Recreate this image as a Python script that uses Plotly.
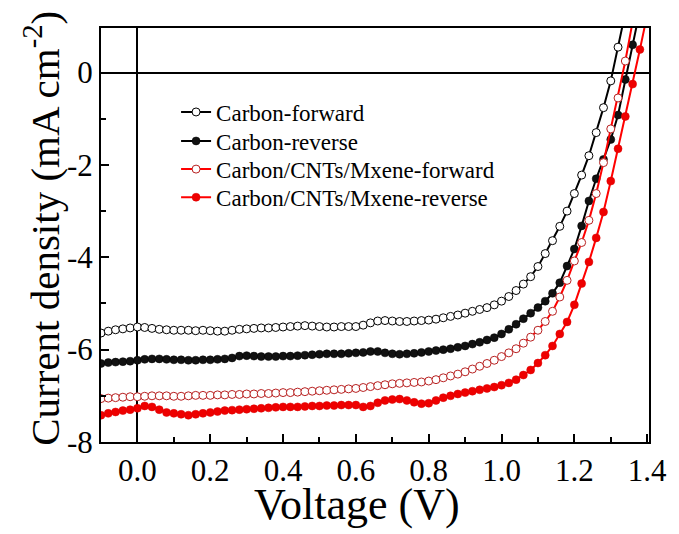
import plotly.graph_objects as go

voltage = [-0.10, -0.08, -0.06, -0.04, -0.02, 0.00, 0.02, 0.04, 0.06, 0.08,
           0.10, 0.12, 0.14, 0.16, 0.18, 0.20, 0.22, 0.24, 0.26, 0.28,
           0.30, 0.32, 0.34, 0.36, 0.38, 0.40, 0.42, 0.44, 0.46, 0.48,
           0.50, 0.52, 0.54, 0.56, 0.58, 0.60, 0.62, 0.64, 0.66, 0.68,
           0.70, 0.72, 0.74, 0.76, 0.78, 0.80, 0.82, 0.84, 0.86, 0.88,
           0.90, 0.92, 0.94, 0.96, 0.98, 1.00, 1.02, 1.04, 1.06, 1.08,
           1.10, 1.12, 1.14, 1.16, 1.18, 1.20, 1.22, 1.24, 1.26, 1.28,
           1.30, 1.32, 1.34, 1.36, 1.38, 1.40]

carbon_forward = [-5.64, -5.60, -5.57, -5.55, -5.53, -5.51, -5.52, -5.54, -5.56, -5.57,
                  -5.58, -5.58, -5.58, -5.59, -5.58, -5.59, -5.60, -5.60, -5.58, -5.56,
                  -5.55, -5.54, -5.53, -5.53, -5.52, -5.51, -5.50, -5.49, -5.48, -5.49,
                  -5.50, -5.51, -5.51, -5.50, -5.50, -5.50, -5.47, -5.42, -5.38, -5.37,
                  -5.38, -5.39, -5.39, -5.38, -5.37, -5.36, -5.34, -5.31, -5.28, -5.25,
                  -5.21, -5.17, -5.13, -5.09, -5.03, -4.95, -4.85, -4.72, -4.58, -4.42,
                  -4.20, -3.92, -3.64, -3.33, -3.00, -2.62, -2.22, -1.80, -1.30, -0.76,
                  -0.18, 0.55, 1.30, None, None, None]

carbon_reverse = [-6.30, -6.28, -6.27, -6.26, -6.25, -6.23, -6.21, -6.20, -6.20, -6.21,
                  -6.22, -6.22, -6.23, -6.23, -6.22, -6.22, -6.21, -6.20, -6.18, -6.14,
                  -6.13, -6.14, -6.15, -6.15, -6.15, -6.14, -6.14, -6.13, -6.12, -6.11,
                  -6.10, -6.09, -6.09, -6.09, -6.08, -6.07, -6.06, -6.04, -6.04, -6.07,
                  -6.09, -6.10, -6.09, -6.08, -6.06, -6.04, -6.02, -6.00, -5.98, -5.95,
                  -5.92, -5.88, -5.84, -5.79, -5.74, -5.66, -5.56, -5.45, -5.33, -5.21,
                  -5.09, -4.95, -4.78, -4.55, -4.19, -3.82, -3.32, -2.78, -2.30, -1.88,
                  -1.45, -0.92, -0.15, 0.60, 1.35, None]

mxene_forward = [-7.06, -7.05, -7.04, -7.03, -7.02, -7.02, -7.01, -7.00, -7.00, -7.00,
                 -7.01, -7.01, -7.00, -6.99, -6.99, -6.99, -6.98, -6.98, -6.97, -6.97,
                 -6.96, -6.96, -6.95, -6.95, -6.94, -6.93, -6.93, -6.92, -6.91, -6.90,
                 -6.89, -6.88, -6.87, -6.86, -6.85, -6.84, -6.82, -6.80, -6.78, -6.76,
                 -6.74, -6.73, -6.72, -6.71, -6.70, -6.68, -6.65, -6.61, -6.57, -6.53,
                 -6.48, -6.42, -6.36, -6.30, -6.23, -6.15, -6.07, -5.98, -5.86, -5.73,
                 -5.58, -5.39, -5.17, -4.86, -4.50, -4.08, -3.68, -3.20, -2.62, -1.95,
                 -1.22, -0.55, 0.25, 1.10, None, None]

mxene_reverse = [-7.42, -7.38, -7.35, -7.32, -7.30, -7.27, -7.22, -7.24, -7.30, -7.36,
                 -7.38, -7.40, -7.42, -7.40, -7.38, -7.36, -7.34, -7.32, -7.31, -7.30,
                 -7.29, -7.28, -7.27, -7.26, -7.25, -7.24, -7.24, -7.24, -7.23, -7.22,
                 -7.22, -7.21, -7.21, -7.20, -7.20, -7.20, -7.24, -7.22, -7.15, -7.10,
                 -7.08, -7.07, -7.10, -7.14, -7.17, -7.16, -7.10, -7.04, -7.00, -6.96,
                 -6.93, -6.90, -6.87, -6.84, -6.81, -6.77, -6.72, -6.65, -6.55, -6.44,
                 -6.29, -6.12, -5.92, -5.66, -5.40, -5.03, -4.57, -4.10, -3.58, -3.02,
                 -2.35, -1.65, -0.95, -0.25, 0.50, 1.25]

series_names = ["Carbon-forward", "Carbon-reverse",
                "Carbon/CNTs/Mxene-forward", "Carbon/CNTs/Mxene-reverse"]

x_tickvals = [0.0, 0.2, 0.4, 0.6, 0.8, 1.0, 1.2, 1.4]
x_ticktext = ["0.0", "0.2", "0.4", "0.6", "0.8", "1.0", "1.2", "1.4"]
y_tickvals = [0, -2, -4, -6, -8]
y_ticktext = ["0", "-2", "-4", "-6", "-8"]

FONT = "Liberation Serif, Times New Roman, serif"

styles = [
    dict(line=dict(color="#000000", width=2),
         marker=dict(symbol="circle", size=8, color="#ffffff",
                     line=dict(color="#000000", width=1))),
    dict(line=dict(color="#000000", width=2),
         marker=dict(symbol="circle", size=8, color="#111111",
                     line=dict(color="#000000", width=0.5))),
    dict(line=dict(color="#ff0000", width=2),
         marker=dict(symbol="circle", size=8, color="#ffffff",
                     line=dict(color="#b82020", width=1))),
    dict(line=dict(color="#ff0000", width=2),
         marker=dict(symbol="circle", size=8, color="#ee0000",
                     line=dict(color="#dd0000", width=0.5))),
]

legend_ids = ["legend", "legend2", "legend3", "legend4"]
legend_tops = [0.849, 0.779, 0.711, 0.643]

fig = go.Figure()
for name, ys, st, lid in zip(series_names,
                             [carbon_forward, carbon_reverse, mxene_forward, mxene_reverse],
                             styles, legend_ids):
    fig.add_trace(go.Scatter(x=voltage, y=ys, mode="lines+markers", name=name,
                             line=st["line"], marker=st["marker"], legend=lid))

axis_common = dict(showline=True, linecolor="black", linewidth=2, mirror=True,
                   ticks="inside", tickcolor="black", tickwidth=2, ticklen=8,
                   showgrid=False, zeroline=True, zerolinecolor="black",
                   zerolinewidth=2,
                   tickfont=dict(family=FONT, size=31, color="black"))

fig.update_xaxes(range=[-0.1, 1.405], tickvals=x_tickvals, ticktext=x_ticktext,
                 minor=dict(ticks="inside", dtick=0.1, tick0=0, ticklen=5,
                            tickwidth=2, tickcolor="black", showgrid=False),
                 **axis_common)
fig.update_yaxes(range=[-8, 0.965], tickvals=y_tickvals, ticktext=y_ticktext,
                 minor=dict(ticks="inside", dtick=1, tick0=0, ticklen=5,
                            tickwidth=2, tickcolor="black", showgrid=False),
                 **axis_common)

fig.add_annotation(text="Voltage (V)", xref="paper", yref="paper",
                   x=0.4675, y=-0.152, xanchor="center", yanchor="middle",
                   showarrow=False, font=dict(family=FONT, size=44, color="black"))
fig.add_annotation(text="Current density (mA cm<sup>-2</sup>)", xref="paper",
                   yref="paper", x=-0.108, y=0.517, xanchor="center",
                   yanchor="middle", textangle=-90, showarrow=False,
                   font=dict(family=FONT, size=41, color="black"))

legend_layout = {}
for lid, top in zip(legend_ids, legend_tops):
    legend_layout[lid] = dict(x=0.137, y=top, xanchor="left", yanchor="top",
                              bgcolor="rgba(0,0,0,0)", borderwidth=0,
                              font=dict(family=FONT, size=23, color="black"),
                              itemwidth=30)

fig.update_layout(
    width=679, height=534,
    margin=dict(l=101, r=24, t=28, b=92),
    paper_bgcolor="white", plot_bgcolor="white",
    showlegend=True,
    **legend_layout,
)

fig.write_html("out.html", config={"displayModeBar": False},
               post_script="document.body.style.margin='0';document.body.style.padding='0';")
